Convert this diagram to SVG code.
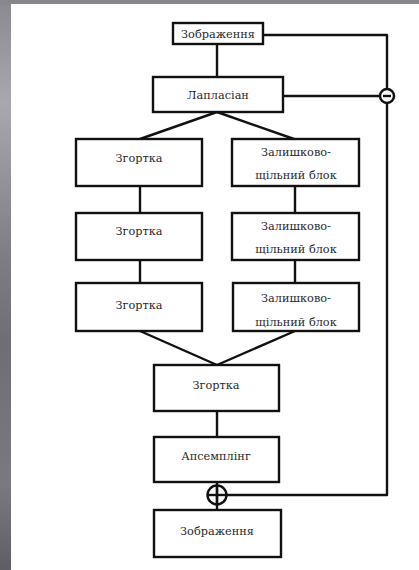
<svg xmlns="http://www.w3.org/2000/svg" width="419" height="570" viewBox="0 0 419 570">
<defs>
<linearGradient id="side" x1="0" y1="0" x2="0" y2="1">
<stop offset="0" stop-color="#8a8990"/>
<stop offset="0.18" stop-color="#a9a8ae"/>
<stop offset="0.45" stop-color="#7e7d84"/>
<stop offset="0.6" stop-color="#6f6e74"/>
<stop offset="0.85" stop-color="#7a797f"/>
<stop offset="1" stop-color="#5f5e64"/>
</linearGradient>
<style>
.box{fill:#fff;stroke:#111;stroke-width:2.4}
.ln{fill:none;stroke:#111;stroke-width:2.4;stroke-linejoin:round}
.t{font-family:"DejaVu Serif","Liberation Serif",serif;font-size:11.3px;fill:#2a2a2a;text-anchor:middle}
</style>
</defs>
<rect x="0" y="0" width="419" height="570" fill="url(#side)"/>
<rect x="0" y="0" width="419" height="5" fill="#88878c"/>
<rect x="11" y="4" width="408" height="566" fill="#fff"/>

<g id="connectors">
<line class="ln" x1="217" y1="44" x2="217" y2="77"/>
<polyline class="ln" points="263,35 387,35 387,89"/>
<line class="ln" x1="283" y1="96" x2="380" y2="96"/>
<polyline class="ln" points="387,103 387,495 227,495"/>
<polyline class="ln" points="140,139 217,112 294,139"/>
<line class="ln" x1="140" y1="186" x2="140" y2="213"/>
<line class="ln" x1="295" y1="186" x2="295" y2="213"/>
<line class="ln" x1="140" y1="260" x2="140" y2="283"/>
<line class="ln" x1="295" y1="260" x2="295" y2="283"/>
<polyline class="ln" points="140,331 217,365 295,331"/>
<line class="ln" x1="217" y1="411" x2="217" y2="437"/>
<line class="ln" x1="217" y1="482" x2="217" y2="510"/>
</g>

<g id="minus">
<circle class="ln" cx="387" cy="96" r="7" fill="#fff"/>
<line class="ln" x1="383" y1="96" x2="391" y2="96"/>
</g>
<g id="plus">
<circle class="ln" cx="217" cy="495" r="9.5" fill="#fff"/>
<line class="ln" x1="207.5" y1="495" x2="226.5" y2="495"/>
<line class="ln" x1="217" y1="485.5" x2="217" y2="504.5"/>
</g>

<g id="image-in"><rect class="box" x="173" y="23" width="90" height="21"/><text class="t" x="218" y="38">Зображення</text></g>
<g id="laplacian"><rect class="box" x="153" y="77" width="130" height="35"/><text class="t" x="218" y="99">Лапласіан</text></g>
<g id="conv1"><rect class="box" x="76" y="139" width="126" height="47"/><text class="t" x="139" y="162">Згортка</text></g>
<g id="rdb1"><rect class="box" x="232" y="139" width="127" height="47"/><text class="t" x="296" y="156">Залишково-</text><text class="t" x="296" y="179">щільний блок</text></g>
<g id="conv2"><rect class="box" x="76" y="213" width="126" height="47"/><text class="t" x="139" y="235">Згортка</text></g>
<g id="rdb2"><rect class="box" x="232" y="213" width="127" height="47"/><text class="t" x="296" y="230">Залишково-</text><text class="t" x="296" y="253">щільний блок</text></g>
<g id="conv3"><rect class="box" x="76" y="283" width="126" height="48"/><text class="t" x="139" y="309">Згортка</text></g>
<g id="rdb3"><rect class="box" x="233" y="283" width="126" height="48"/><text class="t" x="296" y="302">Залишково-</text><text class="t" x="296" y="326">щільний блок</text></g>
<g id="conv4"><rect class="box" x="154" y="365" width="125" height="46"/><text class="t" x="216" y="389">Згортка</text></g>
<g id="upsample"><rect class="box" x="154" y="437" width="125" height="45"/><text class="t" x="216" y="460">Апсемплінг</text></g>
<g id="image-out"><rect class="box" x="154" y="510" width="127" height="47"/><text class="t" x="217" y="535">Зображення</text></g>
</svg>
